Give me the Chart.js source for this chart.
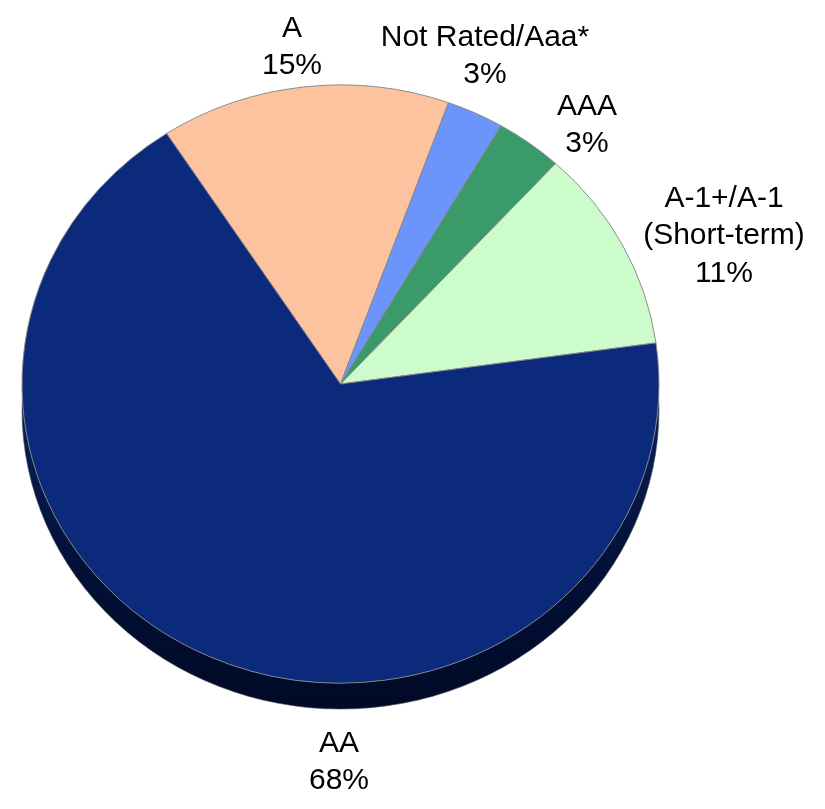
<!DOCTYPE html>
<html>
<head>
<meta charset="utf-8">
<script src="https://cdn.jsdelivr.net/npm/chart.js@4.4.0/dist/chart.umd.min.js"></script>
<style>
  html, body { margin: 0; padding: 0; background: #fff; }
  #wrap { width: 825px; height: 809px; position: relative; }
</style>
</head>
<body>
<div id="wrap"><canvas id="myChart"></canvas></div>
<script>
// slices listed clockwise, starting from the A / AA edge
const ratings = ['A', 'Not Rated/Aaa*', 'AAA', 'A-1+/A-1\n(Short-term)', 'AA'];
const shares = [14.7, 2.9, 3.4, 11.0, 68.0];
const sliceColors = ['#fcc39e', '#6b95fb', '#3a9a6a', '#ccfccc', '#0b2a7c'];

// tilt of the pie (vertical squash) and depth of the rim
const tilt = 0.939;
const depth = 26;

// label anchor spots, one per slice (centre of the text block)
const labelSpots = [[292, 47], [485, 56], [587, 125], [724, 236], [339, 762]];

const tiltPlugin = {
  id: 'tilt',
  beforeDatasetsDraw(chart) {
    const ctx = chart.ctx;
    const arc = chart.getDatasetMeta(0).data[0];
    const cx = arc.x, cy = arc.y, r = arc.outerRadius;
    ctx.save();
    // dark side of the disc
    const g = ctx.createLinearGradient(0, cy, 0, cy + r * tilt + depth);
    g.addColorStop(0, '#0a1f5e');
    g.addColorStop(0.6, '#021037');
    g.addColorStop(1, '#000a26');
    ctx.beginPath();
    ctx.ellipse(cx, cy + depth, r, r * tilt, 0, 0, Math.PI * 2);
    ctx.fillStyle = g;
    ctx.fill();
    ctx.strokeStyle = '#555';
    ctx.lineWidth = 0.6;
    ctx.stroke();
    ctx.restore();
    ctx.save();
    ctx.translate(cx, cy);
    ctx.scale(1, tilt);
    ctx.translate(-cx, -cy);
  },
  afterDatasetsDraw(chart) {
    chart.ctx.restore();
  },
  afterDraw(chart) {
    const ctx = chart.ctx;
    ctx.save();
    ctx.fillStyle = '#000';
    ctx.font = '30px "Liberation Sans", Arial, sans-serif';
    ctx.textAlign = 'center';
    ctx.textBaseline = 'middle';
    const lh = 37.5;
    ratings.forEach((name, i) => {
      const lines = name.split('\n').concat([Math.round(shares[i]) + '%']);
      const [x, y] = labelSpots[i];
      const top = y - (lines.length - 1) * lh / 2;
      lines.forEach((t, k) => ctx.fillText(t, x, top + k * lh));
    });
    ctx.restore();
  }
};

const ctx1 = document.getElementById('myChart');
new Chart(ctx1, {
  type: 'pie',
  data: {
    labels: ratings,
    datasets: [{
      data: shares,
      backgroundColor: sliceColors,
      borderColor: '#8a8a8a',
      borderWidth: 1
    }]
  },
  options: {
    responsive: true,
    maintainAspectRatio: false,
    animation: false,
    rotation: -33.1,
    radius: 318.5,
    layout: { padding: { left: 22, right: 166, top: 66, bottom: 107 } },
    plugins: {
      legend: { display: false },
      tooltip: { enabled: false }
    }
  },
  plugins: [tiltPlugin]
});
</script>
</body>
</html>
